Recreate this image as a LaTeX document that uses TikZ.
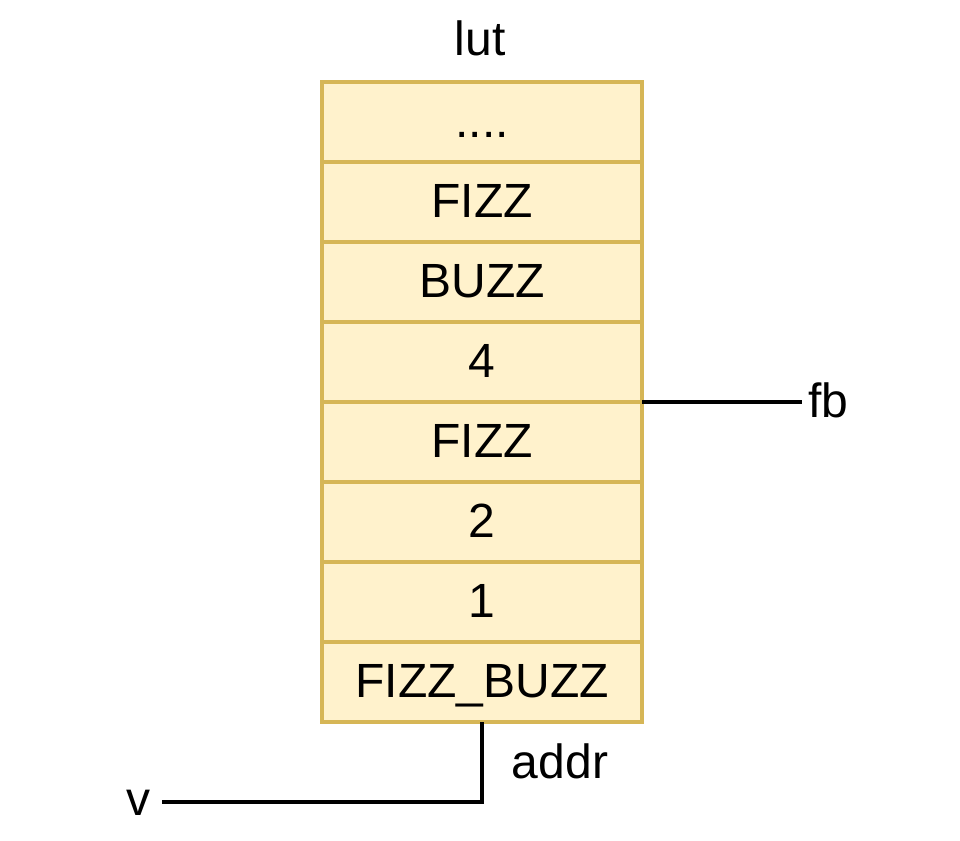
\documentclass[tikz,border=0pt]{standalone}
\usepackage{fontspec}
\setmainfont{Liberation Sans}
\usepackage{tikz}
\usetikzlibrary{positioning}
\definecolor{cellfill}{HTML}{FFF2CC}
\definecolor{celldraw}{HTML}{D6B656}
\tikzset{cell/.style={draw=celldraw, fill=cellfill, line width=4pt, minimum width=320pt, minimum height=80pt, outer sep=0pt, inner sep=0pt, text height=36pt, text depth=6pt, font=\fontsize{48}{58}\selectfont}}
\tikzset{lbl/.style={inner sep=0pt, font=\fontsize{48}{58}\selectfont}}
\tikzset{wire/.style={line width=4pt}}
\begin{document}
\begin{tikzpicture}[x=1pt,y=-1pt]
\useasboundingbox (0,0) rectangle (960,840);
\node[cell] (dots) at (482,122) {....};
\node[cell, below=0pt of dots] (fizzA) {FIZZ};
\node[cell, below=0pt of fizzA] (buzz) {BUZZ};
\node[cell, below=0pt of buzz] (four) {4};
\node[cell, below=0pt of four] (fizzB) {FIZZ};
\node[cell, below=0pt of fizzB] (two) {2};
\node[cell, below=0pt of two] (one) {1};
\node[cell, below=0pt of one] (fizzbuzz) {FIZZ\_BUZZ};
\node[lbl, anchor=base] (lut) at (480,56) {lut};
%outputs and inputs
\node[lbl, anchor=base west] (fb) at (808,417) {fb};
\draw[wire] (four.south east) -- ([xshift=-6pt]fb.west |- four.south east);
\node[lbl, anchor=base] (addr) at (560,778) {addr};
\node[lbl, anchor=base east] (v) at (151,815) {v};
\draw[wire] (fizzbuzz.south) -- (fizzbuzz.south |- 0,802) -- ([xshift=11pt]v.east |- 0,802);
\end{tikzpicture}
\end{document}
